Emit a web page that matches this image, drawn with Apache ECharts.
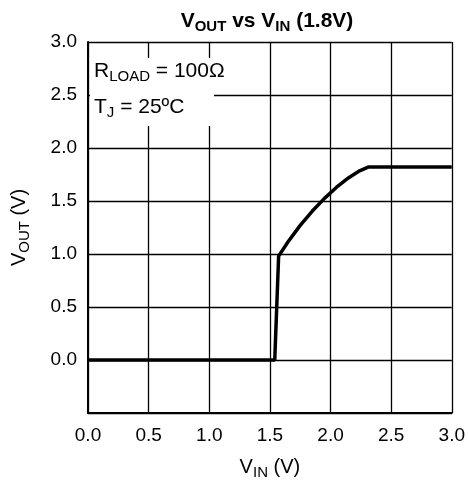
<!DOCTYPE html>
<html>
<head>
<meta charset="utf-8">
<script src="https://cdn.jsdelivr.net/npm/echarts@6/dist/echarts.min.js"></script>
<style>
  html, body { margin: 0; padding: 0; background: #fff; }
  #chart { width: 468px; height: 485px; }
</style>
</head>
<body>
<div id="chart"></div>
<script>
// Vout vs Vin curve (1.8V part)
var vin = [0.0, 1.30, 1.54, 1.572, 1.65, 1.75, 1.85, 1.95, 2.05, 2.15, 2.24, 2.31, 3.0];
var vout = [0.0, 0.0, 0.0, 0.98, 1.115, 1.27, 1.405, 1.525, 1.63, 1.72, 1.785, 1.82, 1.82];
var xTicks = ['0.0', '0.5', '1.0', '1.5', '2.0', '2.5', '3.0'];
var yTicks = ['0.0', '0.5', '1.0', '1.5', '2.0', '2.5', '3.0'];

var font = 'Liberation Sans, Arial, sans-serif';
var main = { fontSize: 20, fontFamily: font, color: '#000', fill: '#000' };
var sub = { fontSize: 15, fontFamily: font, color: '#000', fill: '#000', padding: [10, 0, 0, 0] };

var chart = echarts.init(document.getElementById('chart'));

var points = vin.map(function (v, i) { return [v, vout[i]]; });

chart.setOption({
    animation: false,
    title: {
        text: '{b|V}{s|OUT}{b| vs V}{s|IN}{b| (1.8V)}',
        left: 262,
        top: 4,
        textAlign: 'center',
        textStyle: {
            rich: {
                b: { fontSize: 21, fontWeight: 'bold', fontFamily: font, color: '#000' },
                s: { fontSize: 15, fontWeight: 'bold', fontFamily: font, color: '#000', padding: [10, 0, 0, 0] }
            }
        }
    },
    grid: { left: 88, right: 11, top: 42, bottom: 66 },
    xAxis: {
        type: 'value',
        min: 0, max: 3, interval: 0.5,
        axisLine: { show: true, onZero: false, lineStyle: { color: '#000', width: 2 } },
        axisTick: { show: false },
        splitLine: { show: true, lineStyle: { color: '#000', width: 1.3 } },
        axisLabel: {
            color: '#000', fontSize: 19, fontFamily: font, margin: 13,
            formatter: function (v) { return xTicks[Math.round(v / 0.5)]; }
        },
        name: '{n|V}{s|IN}{n| (V)}',
        nameLocation: 'middle',
        nameGap: 42,
        nameTextStyle: { rich: { n: main, s: sub } }
    },
    yAxis: {
        type: 'value',
        min: -0.5, max: 3, interval: 0.5,
        axisLine: { show: true, onZero: false, lineStyle: { color: '#000', width: 2 } },
        axisTick: { show: false },
        splitLine: { show: true, lineStyle: { color: '#000', width: 1.3 } },
        axisLabel: {
            color: '#000', fontSize: 19, fontFamily: font, margin: 11,
            formatter: function (v) { return v < 0 ? '' : yTicks[Math.round(v / 0.5)]; }
        },
        name: '{n|V}{s|OUT}{n| (V)}',
        nameLocation: 'middle',
        nameGap: 56,
        nameTextStyle: { rich: { n: main, s: sub } }
    },
    graphic: [
        {
            type: 'rect', left: 90, top: 58, z: 10,
            shape: { width: 124, height: 68 },
            style: { fill: '#fff' }
        },
        {
            type: 'text', left: 94, top: 61, z: 11,
            style: {
                text: '{n|R}{s|LOAD}{n| = 100Ω}',
                rich: { n: { fontSize: 21, fontFamily: font, fill: '#000' }, s: sub }
            }
        },
        {
            type: 'text', left: 94, top: 97, z: 11,
            style: {
                text: '{n|T}{s|J}{n| = 25ºC}',
                rich: { n: { fontSize: 21, fontFamily: font, fill: '#000' }, s: sub }
            }
        }
    ],
    series: [{
        type: 'line',
        data: points,
        showSymbol: false,
        lineStyle: { color: '#000', width: 3.5 }
    }]
});
</script>
</body>
</html>
